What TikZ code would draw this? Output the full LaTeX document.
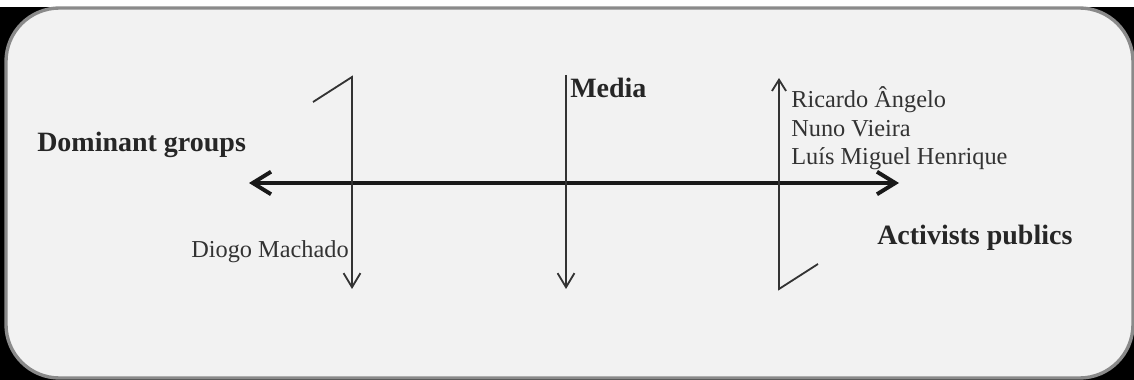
\documentclass[tikz,border=0pt]{standalone}
\usepackage{fontspec}
\setmainfont{Liberation Serif}
\usetikzlibrary{arrows.meta}
\definecolor{panel}{HTML}{F2F2F2}
\definecolor{rim}{HTML}{8A8A8A}
\tikzset{
  vline/.style={line width=1.3pt,draw=black!80},
  vtip/.style={-{Straight Barb[length=10pt,width=12pt]}},
  grouptext/.style={anchor=base west,inner sep=0pt,font=\fontsize{19.9}{24}\selectfont\bfseries,text=black!85},
  nametext/.style={anchor=base west,inner sep=0pt,font=\fontsize{17.3}{20.3}\selectfont,text=black!80}
}

\begin{document}
\begin{tikzpicture}[x=0.025cm,y=-0.025cm]
  \useasboundingbox (0,0) rectangle (1134,380);
  % frame
  \fill[black] (0,7) rectangle (1134,380);
  \draw[rim,fill=panel,line width=2.4pt,rounded corners=38pt] (6,8) rectangle (1133,378);

  % group labels
  \node[grouptext] (dom) at (37,152) {Dominant groups};
  \node[grouptext] (act) at (877,245) {Activists publics};
  \node[grouptext] (media) at (570,98) {Media};

  % names
  \node[nametext] (diogo) at (191,258) {Diogo Machado};
  \node[nametext] (ricardo) at (791,108) {Ricardo Ângelo};
  \node[nametext] (nuno) at (791,137) {Nuno Vieira};
  \node[nametext] (luis) at (791,165) {Luís Miguel Henrique};

  % main axis
  \coordinate (axisL) at (249,183);
  \coordinate (axisR) at (899,183);
  \draw[{Straight Barb[length=13pt,width=16pt]}-{Straight Barb[length=13pt,width=16pt]},line width=2.8pt,black!90] (axisL) -- (axisR);

  % left arrow (dominant)
  \coordinate (domHook) at (313,102);
  \coordinate (domTop) at (352,77);
  \coordinate (domEnd) at (352,289);
  \draw[vline,vtip] (domHook) -- (domTop) -- (domEnd);

  % middle arrow (media)
  \coordinate (medTop) at (566,75);
  \coordinate (medEnd) at (566,289);
  \draw[vline,vtip] (medTop) -- (medEnd);

  % right arrow (activists)
  \coordinate (actHook) at (818,264);
  \coordinate (actBot) at (779,289);
  \coordinate (actEnd) at (779,78);
  \draw[vline,-{Straight Barb[length=8pt,width=10pt]}] (actHook) -- (actBot) -- (actEnd);
\end{tikzpicture}
\end{document}
